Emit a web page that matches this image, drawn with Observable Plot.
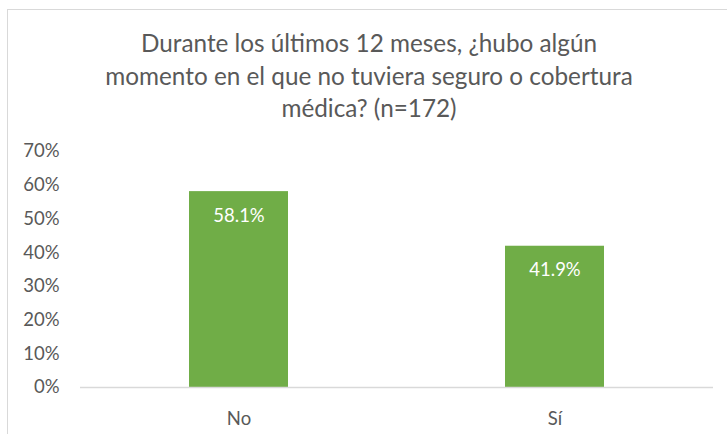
<!DOCTYPE html>
<html>
<head>
<meta charset="utf-8">
<script src="https://cdn.jsdelivr.net/npm/d3@7"></script>
<script src="https://cdn.jsdelivr.net/npm/@observablehq/plot@0.6"></script>
<style>
  html, body { margin: 0; padding: 0; background: #fff; }
  #wrap { position: relative; width: 727px; height: 434px; overflow: hidden; font-family: Lato, "Open Sans", sans-serif; }
  #frame { position: absolute; left: 7px; top: 9px; width: 740px; height: 440px; border: 1px solid #d9d9d9; box-sizing: border-box; }
  #title { position: absolute; left: 0; top: 27px; width: 738px; text-align: center; color: #595959; font-size: 24.3px; line-height: 32.5px; }
  #chart { position: absolute; left: 0; top: 0; }
</style>
</head>
<body>
<div id="wrap">
  <div id="frame"></div>
  <div id="chart"></div>
  <div id="title">Durante los últimos 12 meses, ¿hubo algún<br>momento en el que no tuviera seguro o cobertura<br>médica? (n=172)</div>
</div>
<script>
const categories = ["No", "Sí"];
const values = [0.581, 0.419];
const labels = ["58.1%", "41.9%"];
const yTicks = [0, 0.1, 0.2, 0.3, 0.4, 0.5, 0.6, 0.7];

const data = categories.map((c, i) => ({cat: c, v: values[i], label: labels[i]}));

const chart = Plot.plot({
  width: 727,
  height: 434,
  marginLeft: 80,
  marginRight: 14,
  marginTop: 151,
  marginBottom: 47,
  style: {fontFamily: "Lato, 'Open Sans', sans-serif", fontSize: "17px", color: "#595959", background: "transparent"},
  x: {domain: categories, paddingInner: 0.688, paddingOuter: 0.343, label: null},
  y: {domain: [0, 0.7], label: null},
  marks: [
    Plot.barY(data, {x: "cat", y: "v", fill: "#70AD47"}),
    Plot.ruleY([0], {stroke: "#d9d9d9", strokeWidth: 1.3}),
    Plot.axisY({ticks: yTicks, tickFormat: d => Math.round(d * 100) + "%", tickSize: 0, tickPadding: 21, fill: "#595959", fontSize: 18.5, label: null}),
    Plot.axisX({tickSize: 0, tickPadding: 24, fill: "#595959", fontSize: 18.5, label: null}),
    Plot.text(data, {x: "cat", y: "v", text: "label", fill: "white", fontSize: 18.5, dy: 24, lineAnchor: "middle"})
  ]
});
document.getElementById("chart").appendChild(chart);
</script>
</body>
</html>
